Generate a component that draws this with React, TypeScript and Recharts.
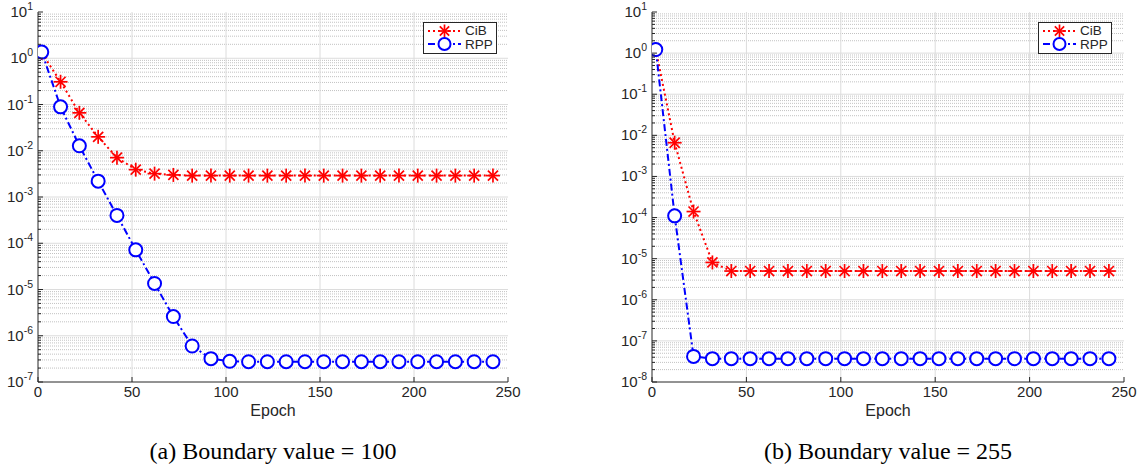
import React from 'react';
import { LineChart, Line, XAxis, YAxis, CartesianGrid, Legend } from 'recharts';

// epochs where the markers sit
const epochs = [2, 12, 22, 32, 42, 52, 62, 72, 82, 92, 102, 112, 122, 132, 142, 152, 162, 172, 182, 192, 202, 212, 222, 232, 242];

// (a) boundary value = 100
const cibA = [1.3, 0.31, 0.066, 0.02, 0.0071, 0.0039, 0.0032, 0.003, 0.0029, 0.0029, 0.0029, 0.0029, 0.0029, 0.0029, 0.0029, 0.0029, 0.0029, 0.0029, 0.0029, 0.0029, 0.0029, 0.0029, 0.0029, 0.0029, 0.0029];
const rppA = [1.36, 0.089, 0.0128, 0.0022, 0.0004, 7.2e-5, 1.35e-5, 2.6e-6, 6e-7, 3.2e-7, 2.8e-7, 2.75e-7, 2.75e-7, 2.75e-7, 2.75e-7, 2.75e-7, 2.75e-7, 2.75e-7, 2.75e-7, 2.75e-7, 2.75e-7, 2.75e-7, 2.75e-7, 2.75e-7, 2.75e-7];

// (b) boundary value = 255
const cibB = [1.22, 0.0066, 1.4e-4, 8.1e-6, 5e-6, 5e-6, 5e-6, 5e-6, 5e-6, 5e-6, 5e-6, 5e-6, 5e-6, 5e-6, 5e-6, 5e-6, 5e-6, 5e-6, 5e-6, 5e-6, 5e-6, 5e-6, 5e-6, 5e-6, 5e-6];
const rppB = [1.22, 1.1e-4, 4.2e-8, 3.7e-8, 3.7e-8, 3.7e-8, 3.7e-8, 3.7e-8, 3.7e-8, 3.7e-8, 3.7e-8, 3.7e-8, 3.7e-8, 3.7e-8, 3.7e-8, 3.7e-8, 3.7e-8, 3.7e-8, 3.7e-8, 3.7e-8, 3.7e-8, 3.7e-8, 3.7e-8, 3.7e-8, 3.7e-8];

const xTicks = [0, 50, 100, 150, 200, 250];
const xInnerGrid = [50, 100, 150, 200];
const expA = [-7, -6, -5, -4, -3, -2, -1, 0, 1];
const expB = [-8, -7, -6, -5, -4, -3, -2, -1, 0, 1];
const minorSteps = [2, 3, 4, 5, 6, 7, 8, 9];

const seriesNames = ['CiB', 'RPP'];
const captions = ['(a) Boundary value = 100', '(b) Boundary value = 255'];

const AXIS = '#262626';
const RED = '#ff0000';
const BLUE = '#0000ff';
const FONT = '"Liberation Sans", Arial, Helvetica, sans-serif';

const majorOf = (exps: number[]) => exps.map((e) => Math.pow(10, e));
const minorOf = (exps: number[]) =>
  exps.slice(0, -1).flatMap((e) => minorSteps.map((m) => m * Math.pow(10, e)));

const isDecade = (v: number) => Math.abs(Math.log10(v) - Math.round(Math.log10(v))) < 1e-6;

const LeftTick = ({ x, y, payload }: any) => {
  const v = payload.value;
  const major = isDecade(v);
  return (
    <g>
      <line x1={x + 5} x2={x + 5 + (major ? 5 : 3)} y1={y} y2={y} stroke={AXIS} strokeWidth={1} />
      {major && (
        <text x={x} y={y} dy={5} textAnchor="end" fill={AXIS} fontFamily={FONT} fontSize={15}>
          10
          <tspan dy={-7} fontSize={10.5}>
            {Math.round(Math.log10(v))}
          </tspan>
        </text>
      )}
    </g>
  );
};

const RightTick = ({ x, y, payload }: any) => {
  const major = isDecade(payload.value);
  return <line x1={x} x2={x - (major ? 5 : 3)} y1={y} y2={y} stroke={AXIS} strokeWidth={1} />;
};

const BottomTick = ({ x, y, payload }: any) => (
  <g>
    <line x1={x} x2={x} y1={y} y2={y - 5} stroke={AXIS} strokeWidth={1} />
    <text x={x} y={y + 15} textAnchor="middle" fill={AXIS} fontFamily={FONT} fontSize={15}>
      {payload.value}
    </text>
  </g>
);

const TopTick = ({ x, y }: any) => (
  <line x1={x} x2={x} y1={y} y2={y + 5} stroke={AXIS} strokeWidth={1} />
);

const Asterisk = ({ cx, cy, r = 7 }: any) => {
  if (cx == null || cy == null) return null;
  const d = r * 0.72;
  return (
    <g stroke={RED} strokeWidth={1.7}>
      <line x1={cx - r} x2={cx + r} y1={cy} y2={cy} />
      <line x1={cx} x2={cx} y1={cy - r} y2={cy + r} />
      <line x1={cx - d} x2={cx + d} y1={cy - d} y2={cy + d} />
      <line x1={cx - d} x2={cx + d} y1={cy + d} y2={cy - d} />
    </g>
  );
};

const Ring = ({ cx, cy, r = 6.5 }: any) => {
  if (cx == null || cy == null) return null;
  return <circle cx={cx} cy={cy} r={r} stroke={BLUE} strokeWidth={2} fill="#fff" />;
};

const LegendBox = () => (
  <div
    style={{
      border: `1px solid ${AXIS}`,
      background: '#fff',
      width: 72,
      height: 29,
      paddingTop: 1,
      fontFamily: FONT,
      fontSize: 13.5,
      color: AXIS,
      lineHeight: '13px',
    }}
  >
    {seriesNames.map((name, i) => (
      <div key={name} style={{ display: 'flex', alignItems: 'center', height: 13.5 }}>
        <svg width={41} height={14} style={{ display: 'block' }}>
          <line
            x1={4}
            x2={37}
            y1={7}
            y2={7}
            stroke={i === 0 ? RED : BLUE}
            strokeWidth={2}
            strokeDasharray={i === 0 ? '2 3' : '7 3 2 3'}
          />
          {i === 0 ? <Asterisk cx={20.5} cy={7} r={6.5} /> : <Ring cx={20.5} cy={7} r={6} />}
        </svg>
        <span>{name}</span>
      </div>
    ))}
  </div>
);

type PanelProps = {
  cib: number[];
  rpp: number[];
  exps: number[];
  width: number;
  marginLeft: number;
  marginRight: number;
  legendLeft: number;
};

const Panel = ({ cib, rpp, exps, width, marginLeft, marginRight, legendLeft }: PanelProps) => {
  const data = epochs.map((e, i) => ({ epoch: e, cib: cib[i], rpp: rpp[i] }));
  const major = majorOf(exps);
  const minor = minorOf(exps);
  const yTicks = [...major, ...minor].sort((a, b) => a - b);
  const domain = [major[0], major[major.length - 1]];
  return (
    <LineChart
      width={width}
      height={425}
      data={data}
      margin={{ top: 12, right: marginRight, bottom: 0, left: marginLeft }}
    >
      <CartesianGrid
        horizontalValues={minor}
        vertical={false}
        stroke="#c2c2c2"
        strokeDasharray="1 1"
      />
      <CartesianGrid
        horizontalValues={major.slice(1, -1)}
        verticalValues={xInnerGrid}
        stroke="#dcdcdc"
      />
      <XAxis
        dataKey="epoch"
        type="number"
        domain={[0, 250]}
        ticks={xTicks}
        interval={0}
        allowDataOverflow
        height={43}
        tickSize={0}
        tickMargin={0}
        tickLine={false}
        tick={<BottomTick />}
        axisLine={{ stroke: AXIS }}
        label={{ value: 'Epoch', position: 'insideBottom', offset: 9, fill: AXIS, fontSize: 16, fontFamily: FONT }}
      />
      <XAxis
        xAxisId="t"
        orientation="top"
        type="number"
        domain={[0, 250]}
        ticks={xTicks}
        interval={0}
        allowDataOverflow
        height={0}
        tickSize={0}
        tickMargin={0}
        tickLine={false}
        tick={<TopTick />}
        axisLine={{ stroke: AXIS }}
      />
      <YAxis
        type="number"
        scale="log"
        domain={domain}
        ticks={yTicks}
        interval={0}
        allowDataOverflow
        width={38}
        tickSize={0}
        tickMargin={5}
        tickLine={false}
        tick={<LeftTick />}
        axisLine={{ stroke: AXIS }}
      />
      <YAxis
        yAxisId="r"
        orientation="right"
        type="number"
        scale="log"
        domain={domain}
        ticks={yTicks}
        interval={0}
        allowDataOverflow
        width={0}
        tickSize={0}
        tickMargin={0}
        tickLine={false}
        tick={<RightTick />}
        axisLine={{ stroke: AXIS }}
      />
      <Legend
        layout="horizontal"
        verticalAlign="middle"
        align="center"
        wrapperStyle={{ top: 22, left: legendLeft, width: 'auto' }}
        content={() => <LegendBox />}
      />
      <Line
        type="linear"
        dataKey="cib"
        name="CiB"
        stroke={RED}
        strokeWidth={2}
        strokeDasharray="2 3"
        dot={(p: any) => <Asterisk key={`c${p.index}`} cx={p.cx} cy={p.cy} />}
        activeDot={false}
        isAnimationActive={false}
      />
      <Line
        type="linear"
        dataKey="rpp"
        name="RPP"
        stroke={BLUE}
        strokeWidth={2}
        strokeDasharray="7 3 2 3"
        dot={(p: any) => <Ring key={`r${p.index}`} cx={p.cx} cy={p.cy} />}
        activeDot={false}
        isAnimationActive={false}
      />
    </LineChart>
  );
};

const captionStyle: React.CSSProperties = {
  position: 'absolute',
  top: 438,
  width: 400,
  textAlign: 'center',
  fontFamily: '"Liberation Serif", "Times New Roman", serif',
  fontSize: 24,
  color: '#000',
  whiteSpace: 'nowrap',
};

export default function App() {
  return (
    <div style={{ position: 'absolute', left: 0, top: 0, width: 1138, height: 476, background: '#fff' }}>
      <div style={{ position: 'absolute', left: 0, top: 0 }}>
        <Panel cib={cibA} rpp={rppA} exps={expA} width={560} marginLeft={0} marginRight={52} legendLeft={423} />
      </div>
      <div style={{ position: 'absolute', left: 600, top: 0 }}>
        <Panel cib={cibB} rpp={rppB} exps={expB} width={538} marginLeft={14} marginRight={14} legendLeft={438} />
      </div>
      <div style={{ ...captionStyle, left: 73 }}>{captions[0]}</div>
      <div style={{ ...captionStyle, left: 688 }}>{captions[1]}</div>
    </div>
  );
}
